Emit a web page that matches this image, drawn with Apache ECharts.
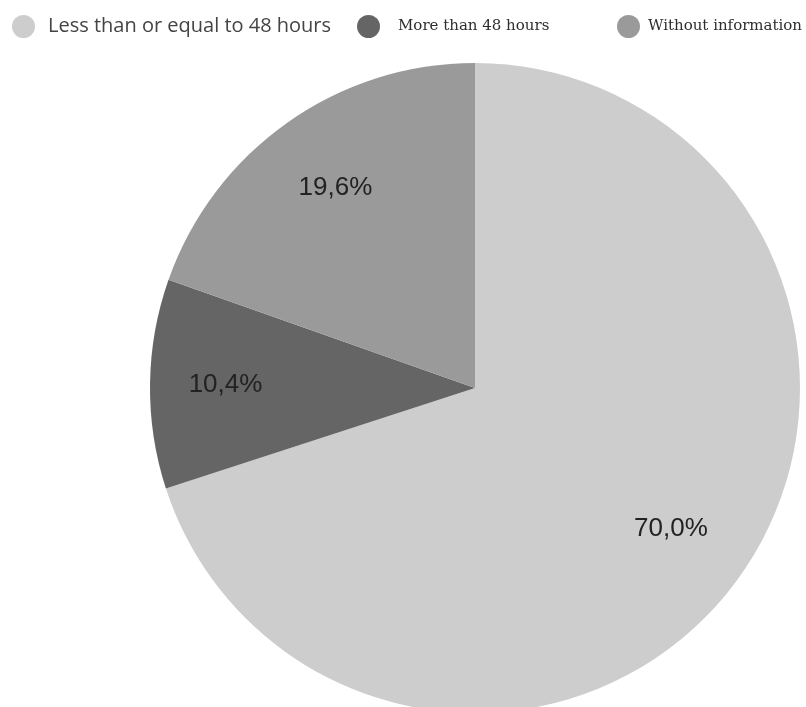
<!DOCTYPE html>
<html>
<head>
<meta charset="utf-8">
<script src="https://cdn.jsdelivr.net/npm/echarts@6/dist/echarts.min.js"></script>
<style>
  html, body { margin: 0; padding: 0; background: #ffffff; }
  #chart { width: 806px; height: 707px; }
</style>
</head>
<body>
<div id="chart"></div>
<script>
// Time categories and their shares (percent)
const categories = ['Less than or equal to 48 hours', 'More than 48 hours', 'Without information'];
const shares = [70.0, 10.4, 19.6];
const colors = ['#cdcdcd', '#656565', '#9a9a9a'];

// Label nudges from the default inside position, per slice
const labelShift = [[62, 44], [-84, -1], [-44, -65]];

const chart = echarts.init(document.getElementById('chart'));

const legendFonts = [
  { fontFamily: 'Open Sans', fontSize: 20, color: '#444444', padding: [0, 0, 0, 8] },
  { fontFamily: 'DejaVu Serif', fontSize: 15, color: '#2e2e2e', padding: [0, 0, 0, 13] },
  { fontFamily: 'DejaVu Serif', fontSize: 15, color: '#2e2e2e', padding: [0, 0, 0, 3] }
];
const legendLeft = [7, 352, 612];

const legends = categories.map((name, i) => ({
  data: [{ name: name, icon: 'circle', textStyle: legendFonts[i] }],
  left: legendLeft[i],
  top: 10,
  itemWidth: 23,
  itemHeight: 23,
  itemGap: 0,
  selectedMode: false
}));

chart.setOption({
  animation: false,
  color: colors,
  legend: legends,
  series: [{
    type: 'pie',
    center: [475, 388],
    radius: 325,
    startAngle: 90,
    clockwise: true,
    data: categories.map((name, i) => ({ name: name, value: shares[i] })),
    label: {
      show: true,
      position: 'inside',
      fontFamily: 'Liberation Sans',
      fontSize: 26,
      color: '#222222',
      formatter: p => p.value.toFixed(1).replace('.', ',') + '%'
    },
    labelLayout: p => ({ dx: labelShift[p.dataIndex][0], dy: labelShift[p.dataIndex][1] }),
    labelLine: { show: false },
    itemStyle: { borderWidth: 0 },
    emphasis: { disabled: true }
  }]
});
</script>
</body>
</html>
